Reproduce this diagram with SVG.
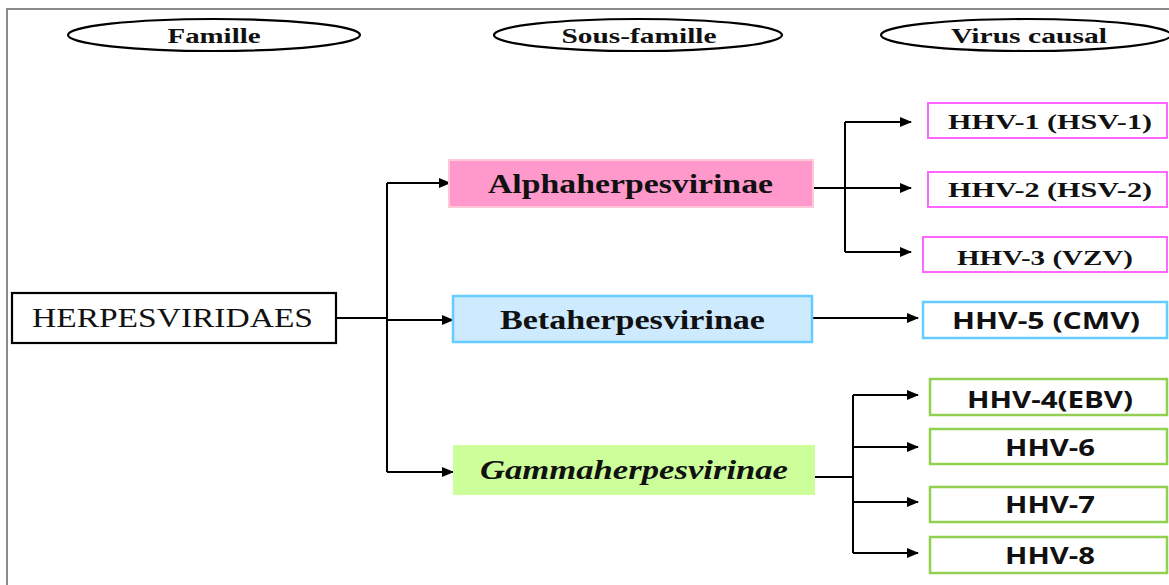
<svg xmlns="http://www.w3.org/2000/svg" width="1169" height="585" viewBox="0 0 1169 585">
  <defs>
    <marker id="arrow" markerUnits="userSpaceOnUse" markerWidth="12" markerHeight="10" refX="11" refY="5" orient="auto">
      <path d="M0,0 L12,5 L0,10 Z" fill="#000"/>
    </marker>
    <style>
      .head { fill: #fff; stroke: #000; stroke-width: 2.2; }
      .serif { font-family: "Liberation Serif", "Times New Roman", serif; fill: #111; }
      .sans { font-family: "Open Sans", "Liberation Sans", sans-serif; font-weight: bold; fill: #111; }
      .b { font-weight: bold; }
      .link { fill: none; stroke: #000; stroke-width: 2; }
      .arr { marker-end: url(#arrow); }
      .alphaV { fill: #fff; stroke: #ff66ff; stroke-width: 2; }
      .betaV { fill: #fff; stroke: #66ccff; stroke-width: 2.5; }
      .gammaV { fill: #fff; stroke: #92d050; stroke-width: 2.5; }
    </style>
  </defs>

  <rect width="1169" height="585" fill="#fff"/>
  <!-- page frame -->
  <path d="M7,585 V9 H1169" fill="none" stroke="#8a8a8a" stroke-width="2"/>

  <!-- column headers -->
  <g id="header-famille">
    <ellipse class="head" cx="214" cy="35" rx="146" ry="16"/>
    <text class="serif b" x="214" y="43" font-size="22" text-anchor="middle" textLength="93" lengthAdjust="spacingAndGlyphs">Famille</text>
  </g>
  <g id="header-sous-famille">
    <ellipse class="head" cx="638" cy="35" rx="144" ry="16"/>
    <text class="serif b" x="639" y="43" font-size="22" text-anchor="middle" textLength="155" lengthAdjust="spacingAndGlyphs">Sous-famille</text>
  </g>
  <g id="header-virus">
    <ellipse class="head" cx="1026" cy="35" rx="145" ry="16"/>
    <text class="serif b" x="1029" y="43" font-size="22" text-anchor="middle" textLength="156" lengthAdjust="spacingAndGlyphs">Virus causal</text>
  </g>

  <!-- connectors -->
  <g id="connectors">
    <path class="link" d="M336,318 H387"/>
    <path class="link" d="M387,183 V472"/>
    <path class="link arr" d="M387,183 H450"/>
    <path class="link arr" d="M387,320 H453"/>
    <path class="link arr" d="M387,472 H453"/>

    <path class="link" d="M845,122 V252"/>
    <path class="link arr" d="M845,122 H911"/>
    <path class="link arr" d="M813,188 H911"/>
    <path class="link arr" d="M845,252 H911"/>

    <path class="link arr" d="M812,318 H918"/>

    <path class="link" d="M815,477 H853"/>
    <path class="link" d="M853,395 V553"/>
    <path class="link arr" d="M853,395 H918"/>
    <path class="link arr" d="M853,447 H918"/>
    <path class="link arr" d="M853,502 H918"/>
    <path class="link arr" d="M853,553 H918"/>
  </g>

  <!-- family -->
  <g id="herpesviridaes">
    <rect x="12" y="293" width="324" height="50" fill="#fff" stroke="#000" stroke-width="2.2"/>
    <text class="serif" x="32" y="327" font-size="27" textLength="281" lengthAdjust="spacingAndGlyphs">HERPESVIRIDAES</text>
  </g>

  <!-- subfamilies -->
  <g id="alphaherpesvirinae">
    <rect x="449" y="160" width="364" height="47" fill="#ff99cc" stroke="#ffc8d8" stroke-width="2"/>
    <text class="serif b" x="488" y="193" font-size="27" textLength="285" lengthAdjust="spacingAndGlyphs">Alphaherpesvirinae</text>
  </g>
  <g id="betaherpesvirinae">
    <rect x="453" y="296" width="359" height="46" fill="#cdeaff" stroke="#66ccff" stroke-width="2.5"/>
    <text class="serif b" x="500" y="329" font-size="27" textLength="265" lengthAdjust="spacingAndGlyphs">Betaherpesvirinae</text>
  </g>
  <g id="gammaherpesvirinae">
    <rect x="453" y="445" width="362" height="50" fill="#ccff99"/>
    <text class="serif b" font-style="italic" x="480" y="479" font-size="27" textLength="308" lengthAdjust="spacingAndGlyphs">Gammaherpesvirinae</text>
  </g>

  <!-- causal viruses -->
  <g id="hhv-1">
    <rect class="alphaV" x="928" y="103" width="239" height="35"/>
    <text class="serif b" x="948" y="129" font-size="22" textLength="204" lengthAdjust="spacingAndGlyphs">HHV-1 (HSV-1)</text>
  </g>
  <g id="hhv-2">
    <rect class="alphaV" x="928" y="172" width="239" height="35"/>
    <text class="serif b" x="948" y="197" font-size="22" textLength="204" lengthAdjust="spacingAndGlyphs">HHV-2 (HSV-2)</text>
  </g>
  <g id="hhv-3">
    <rect class="alphaV" x="923" y="237" width="244" height="35"/>
    <text class="serif b" x="957" y="265" font-size="22" textLength="176" lengthAdjust="spacingAndGlyphs">HHV-3 (VZV)</text>
  </g>
  <g id="hhv-5">
    <rect class="betaV" x="923" y="302" width="244" height="36"/>
    <text class="sans" x="952" y="329" font-size="23" textLength="188" lengthAdjust="spacingAndGlyphs">HHV-5 (CMV)</text>
  </g>
  <g id="hhv-4">
    <rect class="gammaV" x="930" y="379" width="237" height="36"/>
    <text class="sans" x="967" y="408" font-size="23" textLength="166" lengthAdjust="spacingAndGlyphs">HHV-4(EBV)</text>
  </g>
  <g id="hhv-6">
    <rect class="gammaV" x="930" y="429" width="237" height="35"/>
    <text class="sans" x="1005" y="456" font-size="23" textLength="90" lengthAdjust="spacingAndGlyphs">HHV-6</text>
  </g>
  <g id="hhv-7">
    <rect class="gammaV" x="930" y="487" width="237" height="35"/>
    <text class="sans" x="1005" y="513" font-size="23" textLength="90" lengthAdjust="spacingAndGlyphs">HHV-7</text>
  </g>
  <g id="hhv-8">
    <rect class="gammaV" x="930" y="537" width="237" height="36"/>
    <text class="sans" x="1005" y="564" font-size="23" textLength="90" lengthAdjust="spacingAndGlyphs">HHV-8</text>
  </g>
</svg>
